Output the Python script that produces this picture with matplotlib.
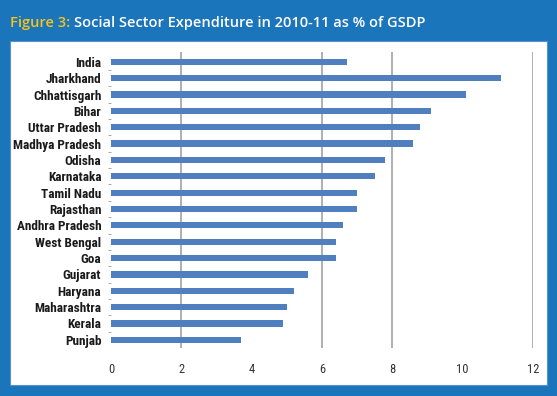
import matplotlib
matplotlib.use("Agg")
import matplotlib.pyplot as plt
from matplotlib import font_manager as fm
from matplotlib.patches import Rectangle

states = ["India", "Jharkhand", "Chhattisgarh", "Bihar", "Uttar Pradesh",
          "Madhya Pradesh", "Odisha", "Karnataka", "Tamil Nadu", "Rajasthan",
          "Andhra Pradesh", "West Bengal", "Goa", "Gujarat", "Haryana",
          "Maharashtra", "Kerala", "Punjab"]
spend = [6.7, 11.1, 10.1, 9.1, 8.8, 8.6, 7.8, 7.5, 7.0, 7.0,
         6.6, 6.4, 6.4, 5.6, 5.2, 5.0, 4.9, 3.7]
xticks = [0, 2, 4, 6, 8, 10, 12]
grid_at = [2, 6, 8, 12]

bg_blue = "#1b75bb"
bar_blue = "#4f7fbe"

# pick a condensed face if one is around, Lato otherwise
have = {f.name for f in fm.fontManager.ttflist}
narrow = next((n for n in ["Roboto Condensed", "Open Sans Condensed",
                           "Asap Condensed", "Lato"] if n in have), "DejaVu Sans")
label_font = [narrow, "DejaVu Sans"]

fig = plt.figure(figsize=(5.57, 3.96), dpi=100)
fig.patch.set_facecolor(bg_blue)

# white panel
fig.patches.append(Rectangle((10 / 557, 1 - 385 / 396), 537 / 557, 344 / 396,
                             transform=fig.transFigure, facecolor="white",
                             edgecolor="#5b8fd0", linewidth=0.8, zorder=-5))

ax = fig.add_axes([111 / 557, 1 - 348 / 396, 422 / 557, 296 / 396])
ax.set_zorder(5)
ax.set_facecolor("none")

pos = list(range(len(states)))
ax.barh(pos, spend, height=0.38, color=bar_blue, zorder=3)
for g in grid_at:
    ax.axvline(g, color="#9a9a9a", linewidth=1.1, zorder=1)

ax.set_xlim(0, 12)
ax.set_ylim(len(states) - 0.5, -0.6)
ax.set_xticks(xticks)
ax.set_xticklabels([str(t) for t in xticks], fontsize=9, color="#333333",
                   family=label_font)
ax.tick_params(axis="x", length=0, pad=11)
ax.set_yticks(pos)
ax.set_yticklabels(states, fontsize=9.5, fontweight="bold", color="#1a1a1a",
                   family=label_font)
ax.tick_params(axis="y", length=0, pad=7)
ax.set_yticks([p + 0.5 for p in pos[:-1]], minor=True)
ax.tick_params(axis="y", which="minor", length=2, color="#999999")
for s in ax.spines.values():
    s.set_visible(False)

fig.text(10 / 557, 1 - 23 / 396, "Figure 3:", color="#f7c21b", fontsize=10.5,
         family="Open Sans", fontweight="semibold", va="center", ha="left")
fig.text(74 / 557, 1 - 23 / 396, "Social Sector Expenditure in 2010-11 as % of GSDP",
         color="white", fontsize=10.5, family="Open Sans", fontweight="semibold",
         va="center", ha="left")

fig.savefig("out.png", dpi=100, facecolor=bg_blue)
